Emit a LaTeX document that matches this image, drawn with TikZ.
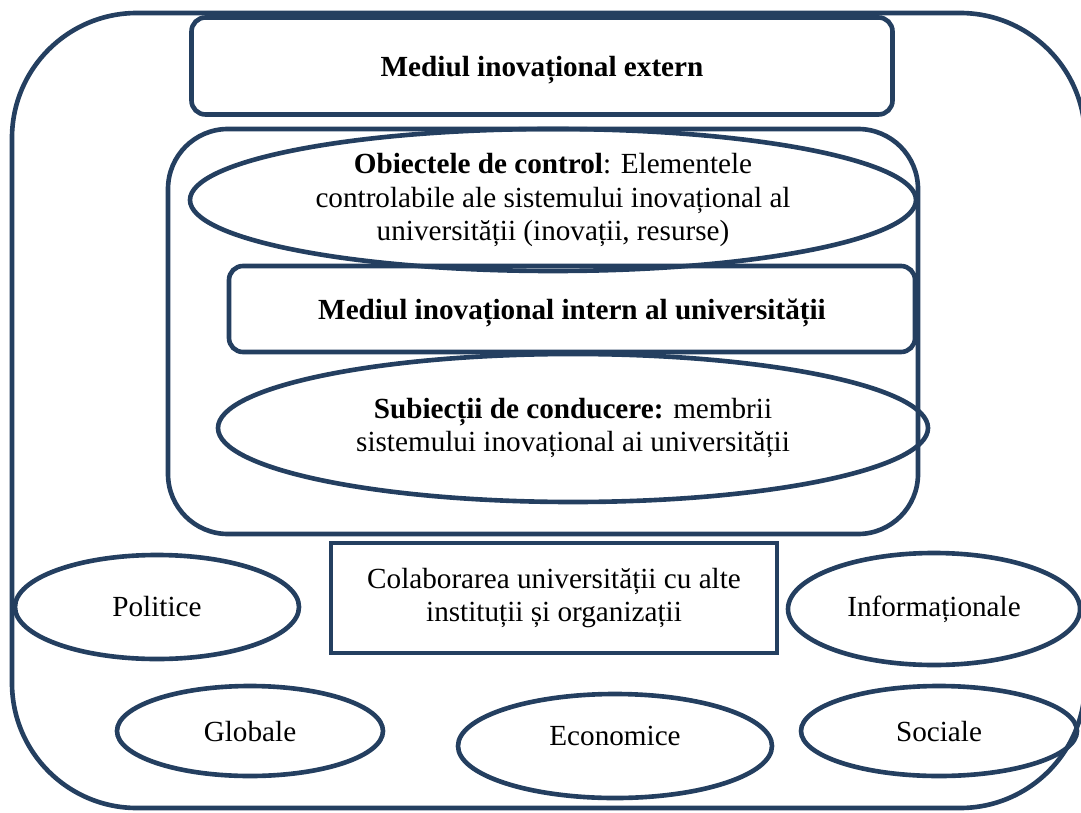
\documentclass[tikz,border=0pt]{standalone}
\usepackage{fontspec}
\setmainfont{Liberation Serif}
\usepackage{tikz}
\usetikzlibrary{shapes.geometric}
\definecolor{navy}{RGB}{36,63,96}
\newcommand{\pxu}{0.01445cm}
\tikzset{
  frame/.style={draw=navy, line width=1.9pt},
  oval/.style={frame, ellipse, inner sep=0pt, align=center, font=\fontsize{12}{13.8}\selectfont},
  panel/.style={frame, rounded corners=14*\pxu, inner sep=0pt, align=center, font=\fontsize{12}{13.8}\selectfont},
}

\begin{document}
\begin{tikzpicture}[x=\pxu, y=-\pxu]
  \useasboundingbox (0,0) rectangle (1081,812);

  % outer frame and inner container
  \draw[frame, rounded corners=125*\pxu] (12,13) rectangle (1085,808);
  \draw[frame, rounded corners=60*\pxu] (168,129) rectangle (918,534);

  \node[panel, text depth=0pt, minimum width=701*\pxu, minimum height=97*\pxu] (EXT) at (542,66) {\textbf{Mediul inovațional extern}};
  \node[oval, minimum width=726*\pxu, minimum height=142*\pxu] (OBJ) at (553,200)
    {\textbf{Obiectele de control}: Elementele\\controlabile ale sistemului inovațional al\\universității (inovații, resurse)};
  \node[panel, text depth=0pt, minimum width=686*\pxu, minimum height=86*\pxu] (INT) at (572,309) {\textbf{Mediul inovațional intern al universității}};
  \node[oval, minimum width=710*\pxu, minimum height=148*\pxu] (SUBJ) at (573,428)
    {\textbf{Subiecții de conducere:} membrii\\sistemului inovațional ai universității};

  \node[panel, rounded corners=0pt, minimum width=446*\pxu, minimum height=110*\pxu] (COLAB) at (554,598)
    {Colaborarea universității cu alte\\instituții și organizații};

  \node[oval, minimum width=284*\pxu, minimum height=104*\pxu] (POL) at (157,607) {Politice};
  \node[oval, minimum width=292*\pxu, minimum height=112*\pxu] (INF) at (934,609) {Informaționale};
  \node[oval, text depth=0pt, minimum width=266*\pxu, minimum height=90*\pxu] (GLOB) at (250,731) {Globale};
  \node[oval, text depth=8pt, minimum width=314*\pxu, minimum height=104*\pxu] (ECON) at (615,746) {Economice};
  \node[oval, text depth=0pt, minimum width=276*\pxu, minimum height=90*\pxu] (SOC) at (939,731) {Sociale};
\end{tikzpicture}
\end{document}
